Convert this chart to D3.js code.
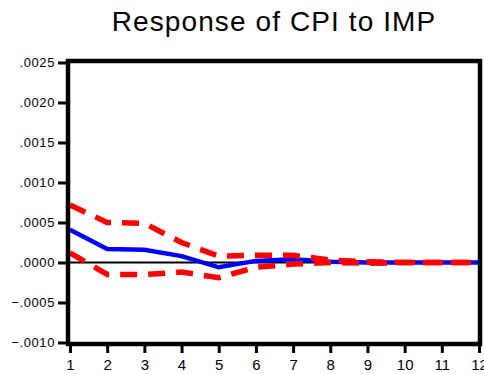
<!DOCTYPE html>
<html>
<head>
<meta charset="utf-8">
<script src="https://cdn.jsdelivr.net/npm/d3@7"></script>
<style>
  body { margin: 0; background: #fff; }
  svg { display: block; font-family: "Liberation Sans", Arial, sans-serif; }
</style>
</head>
<body>
<div id="chart"></div>
<script>
// impulse response of CPI to IMP, periods 1..12
var periods  = [1, 2, 3, 4, 5, 6, 7, 8, 9, 10, 11, 12];
var response = [.00041, .00017, .00016, .00008, -.00006, .00002, .00004, .00001, .00000, .00000, .00000, .00000];
var upper    = [.00072, .00050, .00049, .00025, .00008, .00009, .00009, .00003, .00001, .00000, .00000, .00000];
var lower    = [.00012, -.00015, -.00015, -.00012, -.00019, -.00006, -.00002, .00000, -.00001, .00000, .00000, .00000];
var yTicks   = [-.0010, -.0005, .0000, .0005, .0010, .0015, .0020, .0025];
var title    = "Response of CPI to IMP";

var width = 484, height = 374;

var x = d3.scaleLinear().domain([1, 12]).range([70, 479]);
var y = d3.scaleLinear().domain([-.0010, .0025]).range([342.5, 62.5]);

var svg = d3.select("#chart").append("svg")
    .attr("width", width)
    .attr("height", height);

svg.append("text")
    .attr("x", 274)
    .attr("y", 31)
    .attr("text-anchor", "middle")
    .style("font-size", "28px")
    .style("letter-spacing", "1.1px")
    .text(title);

// eviews style labels: .0025, -.0005
function fmt(v) {
  return d3.format(".4f")(v).replace("0.", ".");
}

var yAxis = d3.axisLeft(y).tickValues(yTicks).tickFormat(fmt).tickSize(8).tickPadding(3);
var xAxis = d3.axisBottom(x).tickValues(periods).tickFormat(d3.format("d")).tickSize(7).tickPadding(6);

var gy = svg.append("g").attr("transform", "translate(66,0)").call(yAxis);
gy.select(".domain").remove();
gy.selectAll("line").attr("stroke-width", 3);
gy.selectAll("text").style("font-size", "13px").style("letter-spacing", "0.6px").attr("fill", "#000");

var gx = svg.append("g").attr("transform", "translate(0,346)").call(xAxis);
gx.select(".domain").remove();
gx.selectAll("line").attr("stroke-width", 3);
gx.selectAll("text").style("font-size", "15px").attr("fill", "#000");

// zero line
svg.append("line")
    .attr("x1", x(1)).attr("x2", x(12))
    .attr("y1", y(0)).attr("y2", y(0))
    .attr("stroke", "#000")
    .attr("stroke-width", 2);

var line = d3.line()
    .x(function(d, i) { return x(periods[i]); })
    .y(function(d) { return y(d); });

svg.append("path")
    .datum(response)
    .attr("d", line)
    .attr("fill", "none")
    .attr("stroke", "#0000ff")
    .attr("stroke-width", 4.5);

[upper, lower].forEach(function(band) {
  svg.append("path")
      .datum(band)
      .attr("d", line)
      .attr("fill", "none")
      .attr("stroke", "#ff0000")
      .attr("stroke-width", 5.5)
      .attr("stroke-dasharray", "17,11");
});

// frame
svg.append("rect")
    .attr("x", 68).attr("y", 61)
    .attr("width", 412).attr("height", 283)
    .attr("fill", "none")
    .attr("stroke", "#000")
    .attr("stroke-width", 4.5);
</script>
</body>
</html>
